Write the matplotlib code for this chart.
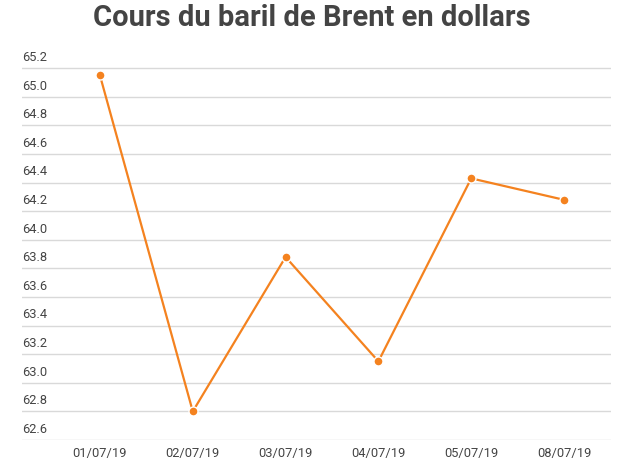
import numpy as np
import matplotlib
matplotlib.use('Agg')
import matplotlib.pyplot as plt

# donnees
dates = ['01/07/19', '02/07/19', '03/07/19', '04/07/19', '05/07/19', '08/07/19']
prix = [65.15, 62.80, 63.88, 63.15, 64.43, 64.28]
y_ticks = [62.6, 62.8, 63.0, 63.2, 63.4, 63.6, 63.8, 64.0, 64.2, 64.4, 64.6, 64.8, 65.0, 65.2]

plt.rcParams['font.family'] = ['Roboto', 'DejaVu Sans']

fig = plt.figure(figsize=(6.36, 4.70), dpi=100)
ax = fig.add_axes([22 / 636, 1 - 440 / 470, 589 / 636, (440 - 54) / 470])

x = np.arange(len(dates))
ax.plot(x, prix, color='#f4821f', linewidth=1.6, marker='o', markersize=6.5,
        markeredgecolor='white', markeredgewidth=1.0, zorder=3)

ax.set_xlim(-0.84, 5.506)
ax.set_ylim(62.6, 65.3)

# grille horizontale
for v in y_ticks:
    ax.axhline(v, color='#d9d9d9', linewidth=1.0, zorder=1)
    ax.text(0.0, v + 0.03, '%.1f' % v, transform=ax.get_yaxis_transform(),
            ha='left', va='bottom', fontsize=9.3, color='#444444')

ax.set_yticks([])
ax.set_xticks(x)
ax.set_xticklabels(dates, fontsize=9.3, color='#444444')
ax.tick_params(axis='x', length=0, pad=5)
for s in ax.spines.values():
    s.set_visible(False)

fig.text(312 / 636, 1 - 26 / 470, 'Cours du baril de Brent en dollars',
         ha='center', va='baseline', fontsize=21, fontweight='bold', color='#444444')

fig.savefig('out.png', dpi=100)
